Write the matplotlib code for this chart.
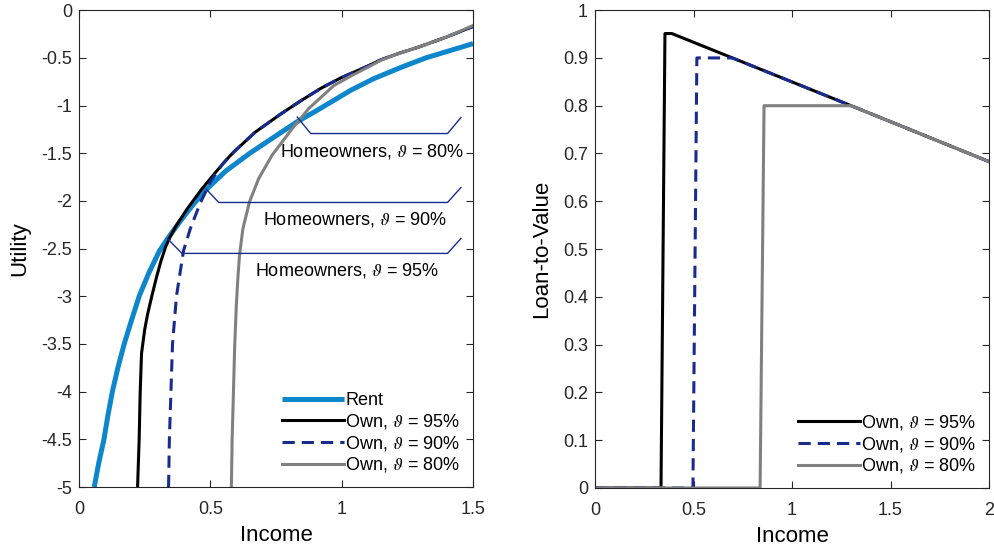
import numpy as np
import matplotlib
matplotlib.use('Agg')
import matplotlib.pyplot as plt

plt.rcParams['font.family'] = ['Liberation Sans', 'DejaVu Sans']
plt.rcParams['mathtext.fontset'] = 'stix'

# ---- left panel: utility vs income
rent_x = [0.058, 0.075, 0.095, 0.11, 0.127, 0.148, 0.172, 0.2, 0.229, 0.265, 0.305, 0.336, 0.37,
          0.40, 0.44, 0.481, 0.557, 0.65, 0.71, 0.83, 0.90, 1.034, 1.12, 1.225, 1.32, 1.416, 1.5]
rent_u = [-5.0, -4.75, -4.5, -4.25, -4.0, -3.75, -3.5, -3.25, -3.0, -2.76, -2.53, -2.40, -2.27,
          -2.16, -2.02, -1.89, -1.69, -1.50, -1.39, -1.17, -1.06, -0.84, -0.72, -0.60, -0.50, -0.42, -0.35]

own95_x = [0.223, 0.229, 0.233, 0.238, 0.25, 0.261, 0.277, 0.295, 0.312, 0.33, 0.35, 0.37, 0.41,
           0.466, 0.52, 0.557, 0.588, 0.67, 0.767, 0.844, 0.92, 0.996, 1.098, 1.149, 1.22, 1.289,
           1.4, 1.5]
own95_u = [-5.0, -4.5, -4.0, -3.6, -3.35, -3.19, -3.0, -2.8, -2.63, -2.48, -2.36, -2.26, -2.09,
           -1.88, -1.70, -1.58, -1.49, -1.28, -1.09, -0.95, -0.82, -0.71, -0.587, -0.52, -0.45, -0.39,
           -0.28, -0.17]

own90_x = [0.341, 0.344, 0.35, 0.356, 0.371, 0.385, 0.398, 0.425, 0.462, 0.50, 0.545,
           0.588, 0.67, 0.767, 0.844, 0.92, 0.996, 1.098, 1.149, 1.22, 1.289, 1.4, 1.5]
own90_u = [-5.0, -4.5, -4.0, -3.5, -3.0, -2.75, -2.52, -2.28, -2.02, -1.80, -1.62,
           -1.49, -1.28, -1.09, -0.95, -0.82, -0.71, -0.587, -0.52, -0.45, -0.39, -0.28, -0.17]

own80_x = [0.58, 0.583, 0.588, 0.593, 0.599, 0.605, 0.611, 0.624, 0.649, 0.684, 0.735, 0.812,
           0.875, 0.97, 1.035, 1.098, 1.149, 1.22, 1.289, 1.4, 1.5]
own80_u = [-5.0, -4.5, -4.0, -3.5, -3.09, -2.8, -2.57, -2.29, -2.01, -1.765, -1.52, -1.24,
           -1.03, -0.79, -0.69, -0.60, -0.525, -0.45, -0.39, -0.28, -0.16]

# ---- right panel: loan-to-value vs income
ltv95_x = [0, 0.335, 0.355, 0.39, 1.3, 2.0]
ltv95_y = [0, 0, 0.951, 0.951, 0.80, 0.683]
ltv90_x = [0, 0.497, 0.517, 0.697, 1.3, 2.0]
ltv90_y = [0, 0, 0.90, 0.90, 0.80, 0.683]
ltv80_x = [0, 0.838, 0.858, 1.3, 2.0]
ltv80_y = [0, 0, 0.80, 0.80, 0.683]

labels = ['Own, $\\vartheta$ = 95%', 'Own, $\\vartheta$ = 90%', 'Own, $\\vartheta$ = 80%']

# annotation brackets (income, utility) and text centre
brackets = {
    '80%': ([0.831, 0.882, 1.403, 1.454], [-1.12, -1.293, -1.293, -1.125], (1.117, -1.485)),
    '90%': ([0.484, 0.532, 1.403, 1.454], [-1.875, -2.016, -2.016, -1.859], (1.05, -2.19)),
    '95%': ([0.336, 0.392, 1.403, 1.454], [-2.393, -2.55, -2.55, -2.393], (1.022, -2.73)),
}

c_rent = '#0e86cc'
c_navy = '#1a2b8f'
c_gray = '#808080'
c_axis = '#262626'
dash = (0, (4, 2.3))

fig = plt.figure(figsize=(9.95, 5.48), dpi=100)
ax1 = fig.add_axes([0.0794, 0.1113, 0.396, 0.870])
ax2 = fig.add_axes([0.598, 0.1095, 0.396, 0.872])

ax1.plot(rent_x, rent_u, color=c_rent, lw=3.6, label='Rent', solid_capstyle='butt')
ax1.plot(own95_x, own95_u, color='black', lw=2.2, label=labels[0])
ax1.plot(own90_x, own90_u, color=c_navy, lw=2.2, ls=dash, label=labels[1])
ax1.plot(own80_x, own80_u, color=c_gray, lw=2.2, label=labels[2])

for key, (bx, by, (tx, ty)) in brackets.items():
    ax1.plot(bx, by, color=c_navy, lw=1.0)
    ax1.text(tx, ty, 'Homeowners, $\\vartheta$ = ' + key, ha='center', va='center', fontsize=13)

ax1.set_xlim(0, 1.5)
ax1.set_ylim(-5, 0)
ax1.set_xticks([0, 0.5, 1, 1.5])
ax1.set_xticklabels(['0', '0.5', '1', '1.5'])
yt = np.arange(0, -5.01, -0.5)
ax1.set_yticks(yt)
ax1.set_yticklabels(['0'] + ['-' + ('%g' % abs(v)) for v in yt[1:]])
ax1.set_xlabel('Income', fontsize=16, labelpad=5)
ax1.set_ylabel('Utility', fontsize=16, labelpad=8)
ax1.legend(loc='lower right', bbox_to_anchor=(1.0, 0.0), frameon=False, fontsize=13,
           handlelength=3.4, handletextpad=0.1, labelspacing=0.15, borderaxespad=0.3)

ax2.plot(ltv95_x, ltv95_y, color='black', lw=2.2, label=labels[0])
ax2.plot(ltv90_x, ltv90_y, color=c_navy, lw=2.2, ls=dash, label=labels[1])
ax2.plot(ltv80_x, ltv80_y, color=c_gray, lw=2.2, label=labels[2])
ax2.set_xlim(0, 2)
ax2.set_ylim(0, 1)
ax2.set_xticks([0, 0.5, 1, 1.5, 2])
ax2.set_xticklabels(['0', '0.5', '1', '1.5', '2'])
ax2.set_yticks(np.arange(0, 1.01, 0.1))
ax2.set_yticklabels(['0'] + ['%g' % v for v in np.round(np.arange(0.1, 1.01, 0.1), 1)])
ax2.set_xlabel('Income', fontsize=16, labelpad=5)
ax2.set_ylabel('Loan-to-Value', fontsize=16, labelpad=8)
ax2.legend(loc='lower right', bbox_to_anchor=(1.0, 0.0), frameon=False, fontsize=13,
           handlelength=3.4, handletextpad=0.1, labelspacing=0.15, borderaxespad=0.3)

for ax in (ax1, ax2):
    for s in ax.spines.values():
        s.set_color(c_axis)
        s.set_linewidth(0.8)
    ax.tick_params(direction='in', length=5, width=0.8, colors=c_axis, labelcolor='#262626',
                   labelsize=13, top=True, right=True)
    ax.tick_params(axis='x', pad=10)
    ax.tick_params(axis='y', pad=5)

fig.savefig('out.png', dpi=100)
